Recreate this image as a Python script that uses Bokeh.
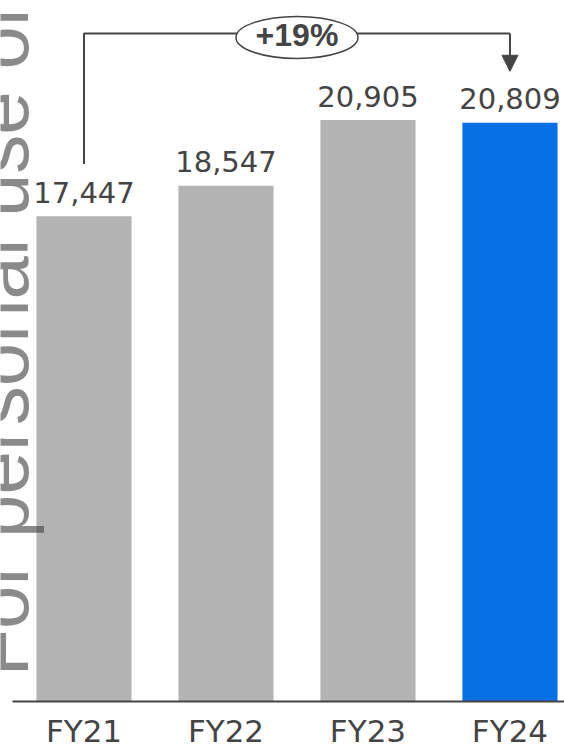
import math
from bokeh.plotting import figure
from bokeh.models import Range1d, FixedTicker, ColumnDataSource, Label, Arrow, NormalHead
from bokeh.core.properties import value
from bokeh.embed import file_html
from bokeh.resources import INLINE

# ---- data ----
categories = ["FY21", "FY22", "FY23", "FY24"]
values = [17447, 18547, 20905, 20809]
bar_colors = ["#b3b3b3", "#b3b3b3", "#b3b3b3", "#0770e5"]
value_labels = [f"{v:,}" for v in values]
growth_pct = round((values[-1] / values[0] - 1) * 100)
growth_label = f"+{growth_pct}%"
watermark = "For personal use only"

xs = list(range(len(categories)))
TEXT = "#444444"
FONT = "DejaVu Sans"

p = figure(width=564, height=751, output_backend="svg", toolbar_location=None,
           x_range=Range1d(-0.588, 3.384), y_range=Range1d(0, 25206),
           y_axis_location=None, min_border=0,
           outline_line_color=None)
p.background_fill_color = "white"
p.border_fill_color = "white"
p.xgrid.visible = False
p.ygrid.visible = False

src = ColumnDataSource(dict(x=xs, top=values, color=bar_colors, label=value_labels))
p.vbar(x="x", top="top", width=0.67, bottom=0, fill_color="color", line_color=None, source=src)

p.text(x="x", y="top", text="label", source=src, text_align="center", text_baseline="alphabetic",
       y_offset=-24, text_font=value(FONT), text_font_size="29px", text_color=TEXT)

ax = p.xaxis[0]
ax.ticker = FixedTicker(ticks=xs)
ax.bounds = (-0.504, 3.384)
ax.major_label_overrides = {i: c for i, c in zip(xs, categories)}
ax.major_tick_out = 0
ax.major_tick_in = 0
ax.minor_tick_out = 0
ax.minor_tick_in = 0
ax.major_tick_line_color = None
ax.minor_tick_line_color = None
ax.axis_line_color = TEXT
ax.axis_line_width = 2
ax.major_label_text_font = FONT
ax.major_label_text_font_size = "31px"
ax.major_label_text_color = TEXT
ax.major_label_standoff = 11

# ---- growth bracket ----
bracket_y = max(values) * 1.149
left_bottom = values[0] * 1.108
arrow_tip = values[-1] * 1.089
mid_x = (xs[0] + xs[-1]) / 2

p.line(x=[xs[0], xs[0], xs[-1], xs[-1]], y=[left_bottom, bracket_y, bracket_y, bracket_y],
       line_color=TEXT, line_width=2)
p.add_layout(Arrow(end=NormalHead(size=16, fill_color=TEXT, line_color=TEXT, line_width=1),
                   x_start=xs[-1], y_start=bracket_y, x_end=xs[-1], y_end=arrow_tip,
                   line_color=TEXT, line_width=2))
p.ellipse(x=[mid_x], y=[bracket_y - 143], width=122, height=42,
          width_units="screen", height_units="screen",
          fill_color="white", line_color=TEXT, line_width=1.5)
p.text(x=[mid_x], y=[bracket_y], text=[growth_label], text_align="center", text_baseline="middle",
       y_offset=2, text_font=value("Liberation Sans"), text_font_style="bold",
       text_font_size="32px", text_color=TEXT)

# ---- watermark ----
p.add_layout(Label(x=-0.588, y=896, text=watermark, angle=math.pi / 2,
                   text_align="left", text_baseline="alphabetic",
                   text_font="Liberation Sans", text_font_size="78px",
                   text_color="#3c3c3c", text_alpha=0.6))

open("out.html", "w").write(file_html(p, INLINE))
